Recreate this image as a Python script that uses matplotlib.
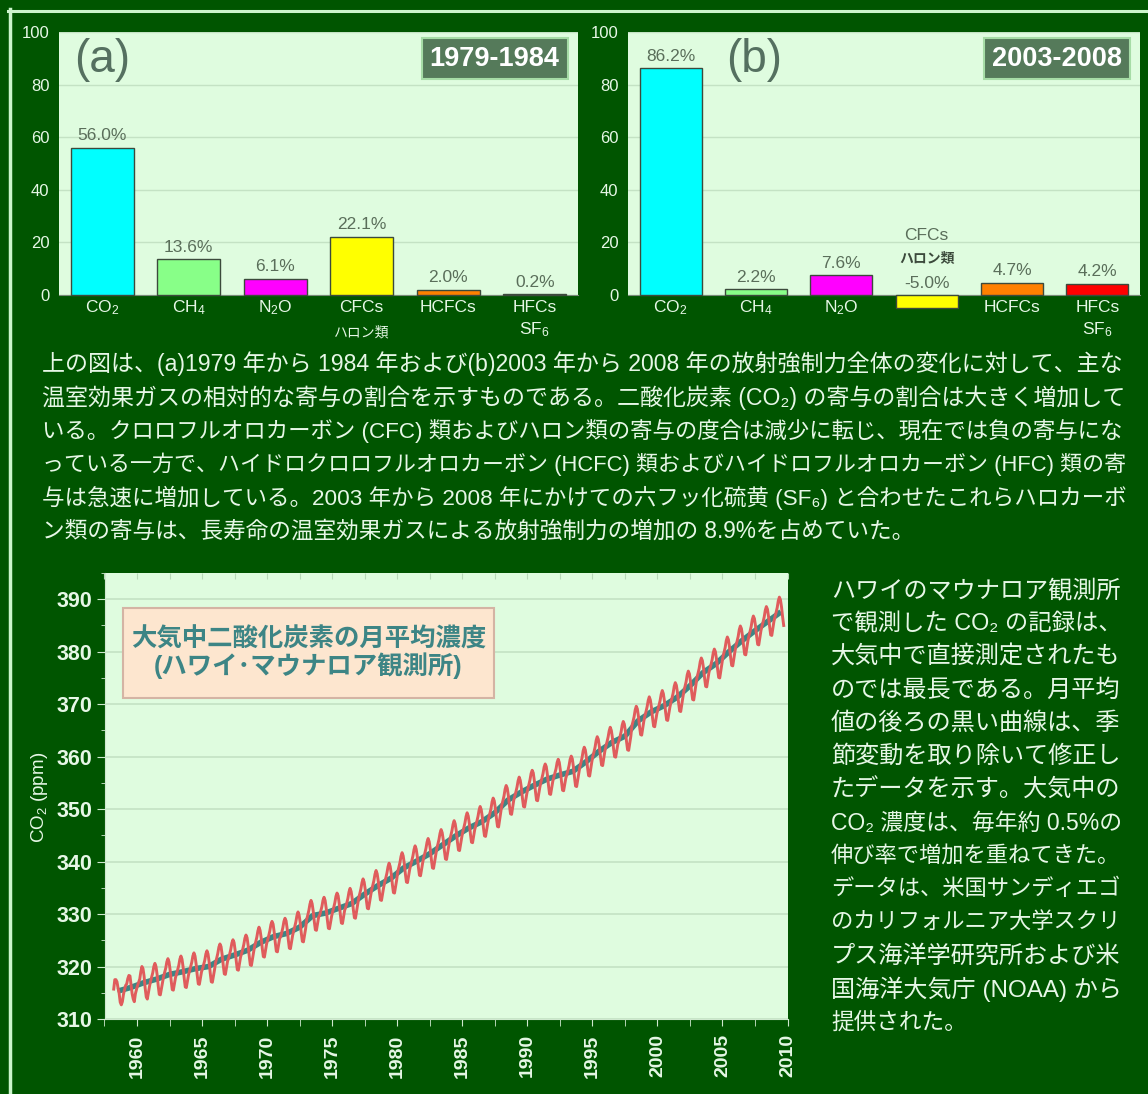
"""Greenhouse gas share bars and Mauna Loa CO2 record (Japanese panel)."""

import matplotlib

matplotlib.use("Agg")
import matplotlib.pyplot as plt
import numpy as np
from matplotlib.lines import Line2D
from matplotlib.patches import Rectangle

plt.rcParams["font.family"] = ["Liberation Sans", "Noto Sans CJK JP", "DejaVu Sans"]
plt.rcParams["mathtext.fontset"] = "custom"
plt.rcParams["mathtext.rm"] = "Liberation Sans"
plt.rcParams["mathtext.default"] = "rm"

# --- data -------------------------------------------------------------------
gas_labels = ["CO$_2$", "CH$_4$", "N$_2$O", "CFCs", "HCFCs", "HFCs"]
gas_sublabels = ["", "", "", "ハロン類", "", "SF$_6$"]
share_1979_1984 = [56.0, 13.6, 6.1, 22.1, 2.0, 0.2]
share_2003_2008 = [86.2, 2.2, 7.6, -5.0, 4.7, 4.2]
bar_colors = ["#00ffff", "#88ff88", "#ff00ff", "#ffff00", "#ff8000", "#ff0000"]

# monthly means at Mauna Loa (ppm), first value = March 1958
co2_1950s = [315.7, 317.5, 317.5, 317.1, 315.9, 314.9, 313.2, 312.7, 313.3, 314.7,
             315.6, 316.4, 316.7, 317.7, 318.3, 318.2, 316.5, 314.8, 313.8, 313.3, 314.8, 315.6]
co2_1960s = [316.4, 317.0, 317.6, 319.0, 320.0, 319.6, 318.2, 315.9, 314.2, 313.8, 315.0, 316.2,
             317.2, 318.0, 318.8, 320.0, 320.6, 320.0, 318.5, 316.4, 314.7, 314.6, 315.8, 317.0,
             318.1, 318.9, 319.7, 320.9, 321.5, 320.9, 319.4, 317.3, 315.6, 315.5, 316.7, 317.9,
             318.6, 319.4, 320.2, 321.4, 322.0, 321.4, 319.9, 317.8, 316.1, 316.0, 317.2, 318.4,
             319.2, 320.0, 320.8, 322.0, 322.6, 322.0, 320.5, 318.4, 316.7, 316.6, 317.8, 319.0,
             319.6, 320.4, 321.2, 322.4, 323.0, 322.4, 320.9, 318.8, 317.1, 317.0, 318.2, 319.4,
             320.8, 321.6, 322.5, 323.7, 324.3, 323.8, 322.3, 320.3, 318.6, 318.5, 319.8, 321.0,
             321.6, 322.4, 323.3, 324.5, 325.1, 324.6, 323.1, 321.1, 319.4, 319.3, 320.6, 321.8,
             322.5, 323.3, 324.2, 325.4, 326.0, 325.5, 324.0, 322.0, 320.3, 320.2, 321.5, 322.7,
             323.9, 324.7, 325.6, 326.8, 327.5, 326.9, 325.5, 323.5, 321.9, 321.8, 323.1, 324.3]
co2_1970s = [325.1, 325.9, 326.8, 328.0, 328.6, 328.1, 326.6, 324.6, 322.9, 322.8, 324.1, 325.3,
             325.7, 326.5, 327.4, 328.6, 329.2, 328.7, 327.2, 325.2, 323.5, 323.4, 324.7, 325.9,
             326.8, 327.6, 328.5, 329.7, 330.4, 329.8, 328.4, 326.4, 324.8, 324.7, 326.0, 327.2,
             329.0, 329.8, 330.7, 331.9, 332.6, 332.0, 330.6, 328.6, 327.0, 326.9, 328.2, 329.4,
             329.8, 330.6, 331.4, 332.6, 333.2, 332.6, 331.1, 329.0, 327.3, 327.2, 328.4, 329.6,
             330.5, 331.3, 332.2, 333.4, 334.0, 333.5, 332.0, 330.0, 328.3, 328.2, 329.5, 330.7,
             331.3, 332.1, 333.0, 334.2, 334.9, 334.3, 332.9, 330.9, 329.3, 329.2, 330.5, 331.7,
             333.1, 333.9, 334.8, 336.0, 336.7, 336.1, 334.7, 332.7, 331.1, 331.0, 332.3, 333.5,
             334.7, 335.5, 336.4, 337.6, 338.3, 337.7, 336.3, 334.3, 332.7, 332.6, 333.9, 335.1,
             336.1, 336.9, 337.8, 339.0, 339.7, 339.1, 337.7, 335.7, 334.1, 334.0, 335.3, 336.5]
co2_1980s = [338.1, 338.9, 339.8, 341.0, 341.7, 341.1, 339.7, 337.7, 336.1, 336.0, 337.3, 338.5,
             339.4, 340.2, 341.1, 342.3, 343.0, 342.4, 341.0, 339.0, 337.4, 337.3, 338.6, 339.8,
             340.8, 341.6, 342.5, 343.7, 344.4, 343.8, 342.4, 340.4, 338.8, 338.7, 340.0, 341.2,
             342.5, 343.3, 344.2, 345.4, 346.1, 345.5, 344.1, 342.1, 340.5, 340.4, 341.7, 342.9,
             344.2, 345.0, 345.9, 347.1, 347.8, 347.2, 345.8, 343.8, 342.2, 342.1, 343.4, 344.6,
             345.7, 346.5, 347.4, 348.6, 349.3, 348.7, 347.3, 345.3, 343.7, 343.6, 344.9, 346.1,
             346.9, 347.7, 348.6, 349.8, 350.5, 349.9, 348.5, 346.5, 344.9, 344.8, 346.1, 347.3,
             348.4, 349.2, 350.1, 351.4, 352.1, 351.6, 350.2, 348.3, 346.7, 346.6, 348.0, 349.3,
             350.8, 351.6, 352.5, 353.8, 354.5, 354.0, 352.6, 350.7, 349.1, 349.0, 350.4, 351.7,
             352.5, 353.3, 354.2, 355.4, 356.1, 355.5, 354.1, 352.1, 350.5, 350.4, 351.7, 352.9]
co2_1990s = [353.9, 354.7, 355.6, 356.8, 357.4, 356.9, 355.4, 353.4, 351.7, 351.6, 352.9, 354.1,
             355.1, 355.9, 356.8, 358.0, 358.6, 358.1, 356.6, 354.6, 352.9, 352.8, 354.1, 355.3,
             356.1, 356.9, 357.7, 358.9, 359.5, 358.9, 357.4, 355.3, 353.6, 353.5, 354.7, 355.9,
             356.6, 357.4, 358.3, 359.5, 360.1, 359.6, 358.1, 356.1, 354.4, 354.3, 355.6, 356.8,
             358.1, 358.9, 359.8, 361.1, 361.8, 361.3, 359.9, 358.0, 356.4, 356.3, 357.7, 359.0,
             360.1, 360.9, 361.8, 363.1, 363.8, 363.3, 361.9, 360.0, 358.4, 358.3, 359.7, 361.0,
             362.0, 362.8, 363.7, 364.9, 365.6, 365.0, 363.6, 361.6, 360.0, 359.9, 361.2, 362.4,
             363.0, 363.8, 364.7, 366.0, 366.7, 366.2, 364.8, 362.9, 361.3, 361.2, 362.6, 363.9,
             365.9, 366.7, 367.6, 368.9, 369.6, 369.1, 367.7, 365.8, 364.2, 364.1, 365.5, 366.8,
             367.8, 368.6, 369.5, 370.7, 371.4, 370.8, 369.4, 367.4, 365.8, 365.7, 367.0, 368.2]
co2_2000s = [369.0, 369.8, 370.7, 371.9, 372.6, 372.0, 370.6, 368.6, 367.0, 366.9, 368.2, 369.4,
             370.4, 371.2, 372.1, 373.4, 374.1, 373.6, 372.2, 370.3, 368.7, 368.6, 370.0, 371.3,
             372.6, 373.4, 374.3, 375.6, 376.3, 375.8, 374.4, 372.5, 370.9, 370.8, 372.2, 373.5,
             375.1, 375.9, 376.8, 378.1, 378.8, 378.3, 376.9, 375.0, 373.4, 373.3, 374.7, 376.0,
             376.8, 377.6, 378.5, 379.8, 380.5, 380.0, 378.6, 376.7, 375.1, 375.0, 376.4, 377.7,
             379.1, 379.9, 380.8, 382.1, 382.8, 382.3, 380.9, 379.0, 377.4, 377.3, 378.7, 380.0,
             381.2, 382.0, 382.9, 384.2, 384.9, 384.4, 383.0, 381.1, 379.5, 379.4, 380.8, 382.1,
             383.1, 383.9, 384.8, 386.1, 386.8, 386.3, 384.9, 383.0, 381.4, 381.3, 382.7, 384.0,
             384.9, 385.7, 386.6, 387.9, 388.6, 388.1, 386.7, 384.8, 383.2, 383.1, 384.5, 385.8,
             386.7, 387.5, 388.4, 389.7, 390.4, 389.9, 388.5, 386.6, 385.0]
first_month = 1958 + 2 / 12

# seasonally adjusted curve, annual values
trend_years = list(range(1958, 2010))
trend_ppm = [315.3, 316.0, 316.9, 317.6, 318.5, 319.0, 319.6, 320.0, 321.4, 322.2,
             323.1, 324.6, 325.7, 326.3, 327.5, 329.7, 330.2, 331.1, 332.0, 333.8,
             335.4, 336.8, 338.8, 340.1, 341.5, 343.2, 344.9, 346.4, 347.6, 349.3,
             351.7, 353.2, 354.5, 355.7, 356.5, 357.2, 359.0, 361.0, 362.7, 363.9,
             366.8, 368.5, 369.7, 371.3, 373.5, 376.0, 377.7, 380.0, 382.1, 384.0,
             385.8, 387.6]

paragraph = [
    "上の図は、(a)1979 年から 1984 年および(b)2003 年から 2008 年の放射強制力全体の変化に対して、主な",
    "温室効果ガスの相対的な寄与の割合を示すものである。二酸化炭素 (CO₂) の寄与の割合は大きく増加して",
    "いる。クロロフルオロカーボン (CFC) 類およびハロン類の寄与の度合は減少に転じ、現在では負の寄与にな",
    "っている一方で、ハイドロクロロフルオロカーボン (HCFC) 類およびハイドロフルオロカーボン (HFC) 類の寄",
    "与は急速に増加している。2003 年から 2008 年にかけての六フッ化硫黄 (SF₆) と合わせたこれらハロカーボ",
    "ン類の寄与は、長寿命の温室効果ガスによる放射強制力の増加の 8.9%を占めていた。",
]
side_note = [
    "ハワイのマウナロア観測所",
    "で観測した CO₂ の記録は、",
    "大気中で直接測定されたも",
    "のでは最長である。月平均",
    "値の後ろの黒い曲線は、季",
    "節変動を取り除いて修正し",
    "たデータを示す。大気中の",
    "CO₂ 濃度は、毎年約 0.5%の",
    "伸び率で増加を重ねてきた。",
    "データは、米国サンディエゴ",
    "のカリフォルニア大学スクリ",
    "プス海洋学研究所および米",
    "国海洋大気庁 (NOAA) から",
    "提供された。",
]

# --- style ------------------------------------------------------------------
W, H = 1148, 1094
BG = "#005500"
PANEL = "#dffcdf"
GRID = "#c4e2c4"
LIGHT = "#e6f7e6"
VALUE = "#5a6e5a"
TEAL = "#3d8585"


def fig_rect(x0, y0, x1, y1):
    return [x0 / W, 1 - y1 / H, (x1 - x0) / W, (y1 - y0) / H]


fig = plt.figure(figsize=(W / 100, H / 100), dpi=100, facecolor=BG)
renderer = fig.canvas.get_renderer()

# light frame lines
fig.add_artist(Line2D([8 / W, 1], [1 - 10.5 / H, 1 - 10.5 / H], color="#ccf5cc", lw=2.2))
fig.add_artist(Line2D([9.5 / W, 9.5 / W], [0, 1 - 9 / H], color="#ccf5cc", lw=2.5))


def text_line(x, y, s, fs, target=None):
    """Left-aligned line; full lines are stretched a little to the column width."""
    t = fig.text(x / W, 1 - y / H, s, ha="left", va="center", fontsize=fs, color=LIGHT)
    if target:
        w = t.get_window_extent(renderer=renderer).width
        t.set_fontsize(fs * min(max(target / w, 0.9), 1.08))
    return t


def bar_panel(rect, values, tag, tag_x, period):
    ax = fig.add_axes(rect)
    ax.set_facecolor(PANEL)
    pos = np.arange(len(values))
    bars = ax.bar(pos, values, width=0.73, color=bar_colors,
                  edgecolor="#3c4a3c", linewidth=1, zorder=3)
    for b in bars:
        b.set_clip_on(False)
    ax.set_xlim(-0.5, 5.5)
    ax.set_ylim(0, 100)
    ax.set_yticks(range(0, 101, 20))
    ax.yaxis.grid(True, color=GRID, lw=1)
    ax.set_axisbelow(True)
    for s in ["top", "right", "left"]:
        ax.spines[s].set_visible(False)
    ax.spines["bottom"].set_color("#7a8a7a")
    ax.set_xticks([])
    ax.tick_params(axis="y", length=0, pad=7, labelsize=12, labelcolor=LIGHT)

    for i, v in enumerate(values):
        if v >= 0:
            ax.annotate(f"{v:.1f}%", (i, v), xytext=(0, 12), textcoords="offset pixels",
                        ha="center", va="center", fontsize=12.5, color=VALUE)
            ax.annotate(gas_labels[i], (i, 0), xytext=(0, -13), textcoords="offset pixels",
                        ha="center", va="center", fontsize=12.5, color=LIGHT,
                        annotation_clip=False)
            sub = gas_sublabels[i]
            if sub:
                small = sub.startswith("ハ")
                ax.annotate(sub, (i, 0), xytext=(0, -37 if small else -35),
                            textcoords="offset pixels", ha="center", va="center",
                            fontsize=10 if small else 12.5, color=LIGHT,
                            annotation_clip=False)
        else:
            # negative share: labels stacked above the zero line
            ax.annotate(f"{v:.1f}%", (i, 0), xytext=(0, 12), textcoords="offset pixels",
                        ha="center", va="center", fontsize=12.5, color=VALUE)
            ax.annotate(gas_sublabels[i], (i, 0), xytext=(0, 37), textcoords="offset pixels",
                        ha="center", va="center", fontsize=10, color="#3c4a3c",
                        fontweight="bold")
            ax.annotate(gas_labels[i], (i, 0), xytext=(0, 59), textcoords="offset pixels",
                        ha="center", va="center", fontsize=12.5, color=VALUE)

    ax.text(tag_x, 0.894, tag, transform=ax.transAxes, ha="center", va="center",
            fontsize=33, color="#557060")
    box_w = 146 / (rect[2] * W)
    ax.add_patch(Rectangle((0.98 - box_w, 0.821), box_w, 0.156,
                           transform=ax.transAxes, facecolor="#557a5a",
                           edgecolor="#a6dca6", lw=1.5, zorder=5))
    ax.text(0.98 - box_w / 2, 0.899, period, transform=ax.transAxes, ha="center",
            va="center", fontsize=19.5, fontweight="bold", color="white", zorder=6)
    return ax


bar_panel(fig_rect(59, 32, 578, 295), share_1979_1984, "(a)", 0.083, "1979-1984")
bar_panel(fig_rect(628, 32, 1140, 295), share_2003_2008, "(b)", 0.246, "2003-2008")

for k, line in enumerate(paragraph):
    text_line(42, 364 + 33.4 * k, line, 16.3, 1082 if k < len(paragraph) - 1 else None)

# --- Mauna Loa record ---------------------------------------------------------
monthly = np.array(co2_1950s + co2_1960s + co2_1970s + co2_1980s + co2_1990s + co2_2000s)
months_t = first_month + (np.arange(len(monthly)) + 0.5) / 12

ax = fig.add_axes(fig_rect(104.5, 573, 787.5, 1019))
ax.set_facecolor(PANEL)
ax.plot(np.array(trend_years) + 0.5, trend_ppm, color=TEAL, lw=4, zorder=3,
        solid_capstyle="butt")
ax.plot(months_t, monthly, color="#e05c5c", lw=2.1, zorder=4)
ax.set_xlim(1957.5, 2010)
ax.set_ylim(310, 395)
ax.set_yticks(range(310, 391, 10))
ax.set_yticks(range(315, 396, 10), minor=True)
ax.set_xticks(range(1960, 2011, 5))
ax.set_xticks(np.arange(1957.5, 2010.1, 2.5), minor=True)
ax.yaxis.grid(True, which="major", color=GRID, lw=1.2)
ax.set_axisbelow(True)
for s in ["top", "right"]:
    ax.spines[s].set_visible(False)
for s in ["left", "bottom"]:
    ax.spines[s].set_color("#cfe8cf")
ax.tick_params(axis="y", which="major", length=6, color="#cfe8cf", pad=3,
               labelsize=15.5, labelcolor=LIGHT)
ax.tick_params(axis="y", which="minor", length=3, color="#cfe8cf")
ax.tick_params(axis="x", which="both", length=5, color="#cfe8cf", pad=6,
               labelsize=14, labelcolor=LIGHT, labelrotation=90)
for lab in ax.get_xticklabels() + ax.get_yticklabels():
    lab.set_fontweight("bold")

top = ax.secondary_xaxis("top")
top.set_xticks(np.arange(1957.5, 2010.1, 2.5))
top.tick_params(direction="in", length=4, color="#b9d9b9", labeltop=False)
top.spines["top"].set_visible(False)

fig.text(40 / W, 1 - 797 / H, "CO$_2$ (ppm)", rotation=90, ha="center", va="center",
         fontsize=13.5, color=LIGHT)

ax.add_patch(Rectangle((0.027, 0.7197), 0.543, 0.2018, transform=ax.transAxes,
                       facecolor="#fde6cf", edgecolor="#d4b4a4", lw=1.5, zorder=5))
ax.text(0.2986, 0.8498, "大気中二酸化炭素の月平均濃度", transform=ax.transAxes,
        ha="center", va="center", fontsize=18.3, fontweight="bold", color=TEAL, zorder=6)
ax.text(0.2986, 0.7915, "(ハワイ･マウナロア観測所)", transform=ax.transAxes,
        ha="center", va="center", fontsize=18.3, fontweight="bold", color=TEAL, zorder=6)

for k, line in enumerate(side_note):
    text_line(831, 591 + 33.2 * k, line, 16.3, 290 if k < len(side_note) - 1 else None)

fig.savefig("out.png", dpi=100, facecolor=BG)
